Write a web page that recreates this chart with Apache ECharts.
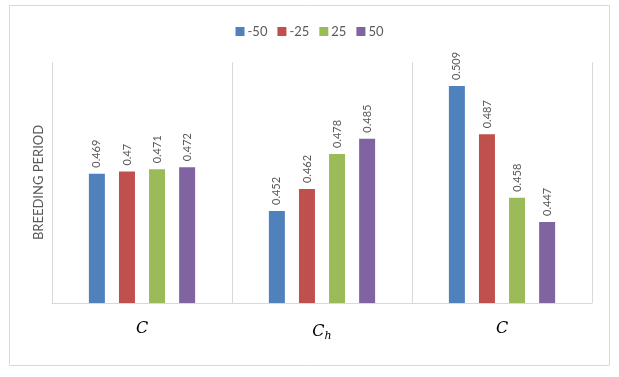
<!DOCTYPE html>
<html>
<head>
<meta charset="utf-8">
<script src="https://cdn.jsdelivr.net/npm/echarts@6/dist/echarts.min.js"></script>
<style>
html,body{margin:0;padding:0;background:#fff;}
#chart{width:619px;height:377px;}
</style>
</head>
<body>
<div id="chart"></div>
<script>
var categories = ['C', 'C_h', 'C'];
var seriesNames = ['-50', '-25', '25', '50'];
var valuesM50 = [0.469, 0.452, 0.509];
var valuesM25 = [0.47, 0.462, 0.487];
var valuesP25 = [0.471, 0.478, 0.458];
var valuesP50 = [0.472, 0.485, 0.447];
var colors = ['#4F81BD', '#C0504D', '#9BBB59', '#8064A2'];

var allValues = [valuesM50, valuesM25, valuesP25, valuesP50];
var FONT = 'Lato, "Liberation Sans", sans-serif';

var chart = echarts.init(document.getElementById('chart'), null, {renderer: 'canvas'});
var series = seriesNames.map(function (name, i) {
  return {
    name: name,
    type: 'bar',
    data: allValues[i],
    barWidth: 16,
    barGap: '88%',
    itemStyle: {color: colors[i]},
    label: {
      show: true,
      position: 'top',
      rotate: 90,
      align: 'left',
      verticalAlign: 'middle',
      distance: 6,
      color: '#595959',
      fontSize: 11,
      fontFamily: FONT,
      formatter: function (p) { return String(p.value); }
    }
  };
});

chart.setOption({
  animation: false,
  backgroundColor: '#fff',
  graphic: [{
    type: 'rect',
    shape: {x: 9.5, y: 5.5, width: 600, height: 360},
    style: {fill: 'none', stroke: '#d9d9d9', lineWidth: 1},
    silent: true,
    z: -1
  }],
  legend: {
    top: 20,
    left: 'center',
    icon: 'rect',
    itemWidth: 9,
    itemHeight: 9,
    itemGap: 10,
    textStyle: {color: '#595959', fontSize: 13, fontFamily: FONT, padding: [0, 0, 0, -2]},
    data: seriesNames
  },
  grid: {left: 52, right: 27, top: 62, bottom: 74, containLabel: false},
  xAxis: {
    type: 'category',
    data: categories,
    axisLine: {show: true, lineStyle: {color: '#d9d9d9'}},
    axisTick: {show: false},
    splitLine: {show: true, lineStyle: {color: '#d9d9d9'}},
    axisLabel: {
      margin: 18,
      color: '#000',
      formatter: function (v) {
        var parts = v.split('_');
        if (parts.length > 1) return '{m|' + parts[0] + '}{s|' + parts[1] + '}';
        return '{m|' + v + '}';
      },
      rich: {
        m: {fontFamily: '"DejaVu Serif", "Liberation Serif", serif', fontStyle: 'italic', fontSize: 16, color: '#000'},
        s: {fontFamily: '"DejaVu Serif", "Liberation Serif", serif', fontStyle: 'italic', fontSize: 11, color: '#000', padding: [10, 0, 0, 0]}
      }
    }
  },
  yAxis: {
    type: 'value',
    min: 0.41,
    max: 0.52,
    name: 'BREEDING PERIOD',
    nameLocation: 'middle',
    nameGap: 7,
    nameRotate: 90,
    nameTextStyle: {color: '#595959', fontSize: 13, fontFamily: FONT},
    axisLine: {show: false},
    axisTick: {show: false},
    axisLabel: {show: false},
    splitLine: {show: false}
  },
  series: series
});
</script>
</body>
</html>
